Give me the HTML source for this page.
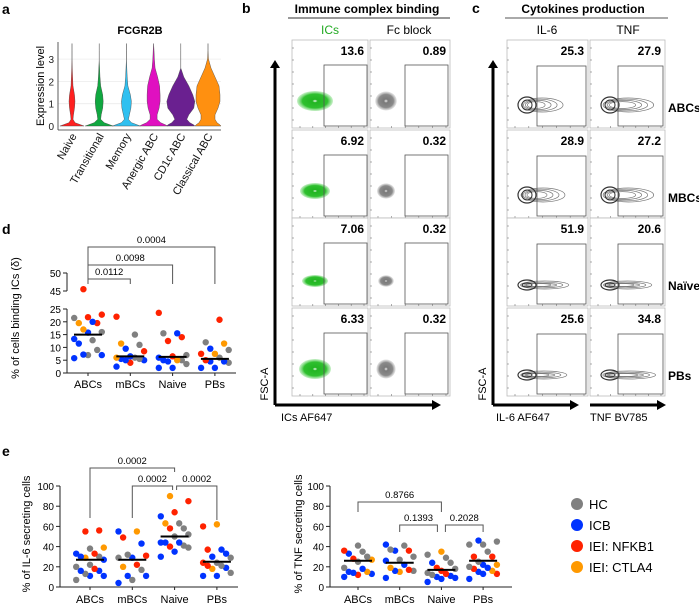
<!DOCTYPE html>
<html><head><meta charset="utf-8">
<style>
html,body{margin:0;padding:0;background:#fff;}
svg{display:block;font-family:"Liberation Sans",sans-serif;}
</style></head>
<body>
<svg id="fig" width="699" height="605" viewBox="0 0 699 605" xmlns="http://www.w3.org/2000/svg">
<defs>
<radialGradient id="gGreen"><stop offset="0" stop-color="#fff"/><stop offset="0.15" stop-color="#22b522"/><stop offset="0.7" stop-color="#2fc02f"/><stop offset="1" stop-color="#8fe08f" stop-opacity="0.5"/></radialGradient>
<radialGradient id="gGrey"><stop offset="0" stop-color="#eee"/><stop offset="0.2" stop-color="#7a7a7a"/><stop offset="0.7" stop-color="#8a8a8a"/><stop offset="1" stop-color="#ccc" stop-opacity="0.5"/></radialGradient>
</defs>
<g font-weight="bold" font-size="14">
<text x="2" y="14">a</text>
<text x="242" y="13">b</text>
<text x="472" y="13">c</text>
<text x="2" y="234">d</text>
<text x="2" y="456">e</text>
</g>
</svg>
<script>
const NS='http://www.w3.org/2000/svg';
const svg=document.getElementById('fig');
function el(tag,attrs,parent,txt){const e=document.createElementNS(NS,tag);for(const k in attrs)e.setAttribute(k,attrs[k]);if(txt!==undefined)e.textContent=txt;(parent||svg).appendChild(e);return e;}
const COL={HC:'#808080',ICB:'#0033ff',NFKB1:'#ff2200',CTLA4:'#ff9900'};

/* ---------- Panel a: violins ---------- */
const violinCats=['Naive','Transitional','Memory','Anergic ABC','CD1c ABC','Classical ABC'];
const violinColors=['#ff2020','#10a840','#30c0f0','#e010c0','#6a2090','#ff9010'];
const violinLevels=[0,0.05,0.15,0.3,0.5,0.8,1.1,1.4,1.8,2.2,2.6,3.0,3.4,3.7];
const violinWidths=[
 [12,9,3,1,1.5,2.5,3,2.5,1,0.6,0.3,0,0,0],
 [14,11,5,1.5,2,3.5,4,3.5,1.5,0.8,0.4,0,0,0],
 [14,11,5,2,3,4.5,5,4,1.5,0.8,0.4,0,0,0],
 [14,12,7,3.5,3.5,5.5,6.5,6.5,6,4,1.5,0.8,0.4,0],
 [14,13,9,6,8,13,14,12,8,3,0,0,0,0],
 [13,12,9,7,7,10,12,12,11,7,3,0.5,0,0]];
(function(){
 const g=el('g',{});
 
 
 const x0=58,x1=221,yb=126,ppu=22.3;
 const y=v=>yb-v*ppu;
 const xc=i=>72+i*27.2;
 for(let t=0;t<=3;t++){
  el('line',{x1:x0,x2:x1,y1:y(t),y2:y(t),stroke:'#ececec','stroke-width':0.8},g);
  const tl=el('text',{x:x0-4,y:y(t)+4,'font-size':10,'text-anchor':'end',fill:'#222'},g,String(t));
  
  
 }
 el('line',{x1:x0,x2:x0,y1:42,y2:130,stroke:'#333','stroke-width':0.8},g);
 el('line',{x1:x0,x2:x1,y1:130,y2:130,stroke:'#333','stroke-width':0.8},g);
 violinCats.forEach((c,i)=>{
  const w=violinWidths[i];let L='',R='';
  violinLevels.forEach((lv,k)=>{const s=(k?'L':'M');R+=`${s}${xc(i)+w[k]},${y(lv)} `;});
  for(let k=violinLevels.length-1;k>=0;k--)L+=`L${xc(i)-violinWidths[i][k]},${y(violinLevels[k])} `;
  const p=el('path',{d:R+L+'Z',fill:violinColors[i],stroke:'#444','stroke-width':0.4},g);
  
  
  const t=el('text',{x:0,y:0,'font-size':11,'text-anchor':'end',fill:'#111',transform:`translate(${xc(i)+5},${136}) rotate(-60)`},g,c);
  
  
 });
 const tt=el('text',{x:140,y:34,'font-size':11,'font-weight':'bold','text-anchor':'middle'},g,'FCGR2B');
 
 
 const yt=el('text',{x:0,y:0,'font-size':11,'text-anchor':'middle',transform:'translate(44,86) rotate(-90)'},g,'Expression level');
 
 
})();

/* ---------- Flow panels ---------- */
const rowTops=[40,130,218,308];
const rowH=88;
const bNumsICs=['13.6','6.92','7.06','6.33'];
const bNumsFc=['0.89','0.32','0.32','0.32'];
const cNumsIL6=['25.3','28.9','51.9','25.6'];
const cNumsTNF=['27.9','27.2','20.6','34.8'];
const cRows=['ABCs','MBCs','Naïve','PBs'];
function flowBox(x,yT,w,name){
 const g=el('g',{});
 
 
 el('rect',{x:x,y:yT,width:w,height:rowH,fill:'#fff',stroke:'#bbb','stroke-width':0.8},g);
 for(let k=0;k<7;k++){el('line',{x1:x,x2:x+2,y1:yT+8+k*12,y2:yT+8+k*12,stroke:'#777','stroke-width':0.6},g);}
 for(let k=0;k<6;k++){el('line',{x1:x+8+k*(w-12)/5,x2:x+8+k*(w-12)/5,y1:yT+rowH-2,y2:yT+rowH,stroke:'#777','stroke-width':0.6},g);}
 return g;
}
function title(x,y,t,name,opts){const e=el('text',Object.assign({x:x,y:y,'font-size':12,'text-anchor':'middle'},opts||{}),svg,t);return e;}
// panel b
title(367,13,'Immune complex binding','panel-b-title',{'font-weight':'bold'});
el('line',{x1:288,x2:450,y1:18,y2:18,stroke:'#333','stroke-width':1});
title(330,34,'ICs','ics-column-header',{fill:'#22aa22'});
title(409,34,'Fc block','fc-block-column-header');
const bBlobW=[18,15,13,16],bBlobH=[10,8,6,10],bBlobY=[61,61,63,61];
rowTops.forEach((yt,r)=>{
 const g1=flowBox(292,yt,76,'ics-plot-row'+(r+1));
 el('ellipse',{cx:315,cy:yt+bBlobY[r],rx:bBlobW[r],ry:bBlobH[r],fill:'url(#gGreen)'},g1);
 el('rect',{x:324,y:yt+25,width:43,height:rowH-27,fill:'none',stroke:'#555','stroke-width':0.8},g1);
 const n1=el('text',{x:364,y:yt+15,'font-size':12,'font-weight':'bold','text-anchor':'end'},g1,bNumsICs[r]);
 
 
 const g2=flowBox(370,yt,80,'fc-block-plot-row'+(r+1));
 el('ellipse',{cx:386,cy:yt+bBlobY[r],rx:bBlobW[r]*0.6,ry:bBlobH[r]*0.95,fill:'url(#gGrey)'},g2);
 el('rect',{x:405,y:yt+25,width:43,height:rowH-27,fill:'none',stroke:'#555','stroke-width':0.8},g2);
 const n2=el('text',{x:446,y:yt+15,'font-size':12,'font-weight':'bold','text-anchor':'end'},g2,bNumsFc[r]);
 
 
});
el('path',{d:'M275,405 V66',stroke:'#000','stroke-width':3,fill:'none'});
el('polygon',{points:'270,68 280,68 275,60',fill:'#000'});
el('path',{d:'M275,405 H434',stroke:'#000','stroke-width':3,fill:'none'});
el('polygon',{points:'432,400 432,410 441,405',fill:'#000'});
title(0,0,'FSC-A','b-y-axis-title',{'font-size':11,transform:'translate(268,384) rotate(-90)'});
title(281,421,'ICs AF647','b-x-axis-title',{'font-size':11,'text-anchor':'start'});
// panel c
title(583,13,'Cytokines production','panel-c-title',{'font-weight':'bold'});
el('line',{x1:505,x2:668,y1:18,y2:18,stroke:'#777','stroke-width':1.2});
title(547,34,'IL-6','il6-column-header');
title(628,34,'TNF','tnf-column-header');
const cTailIL6=[38,40,44,42],cTailTNF=[46,46,44,48];
rowTops.forEach((yt,r)=>{
 const cy=yt+(r>=2?67:65);
 [[507,81,537,cNumsIL6,cTailIL6,'il6'],[590,75,618,cNumsTNF,cTailTNF,'tnf']].forEach(([x,w,gx,nums,tails,nm])=>{
  const g=flowBox(x,yt,w,nm+'-plot-row'+(r+1));
  const cx=x+20;
  const hh=(r>=2?4:7);
  for(let k=0;k<4;k++){
   el('ellipse',{cx:cx+tails[r]*0.4-k*2,cy:cy,rx:tails[r]*0.55-k*4,ry:Math.max(1.5,hh-k*1.2),fill:'none',stroke:'#777','stroke-width':0.7},g);
  }
  el('ellipse',{cx:cx,cy:cy,rx:9,ry:hh+1,fill:'none',stroke:'#333','stroke-width':1.2},g);
  el('ellipse',{cx:cx,cy:cy,rx:5,ry:hh-2>1?hh-2:1.5,fill:'none',stroke:'#333','stroke-width':1},g);
  el('rect',{x:gx,y:yt+26,width:x+w-2-gx,height:rowH-28,fill:'none',stroke:'#555','stroke-width':0.8},g);
  const n=el('text',{x:x+w-4,y:yt+15,'font-size':12,'font-weight':'bold','text-anchor':'end'},g,nums[r]);
  
  
 });
 title(668,yt+72,cRows[r],'row-label-'+(r+1),{'font-weight':'bold','text-anchor':'start'});
});
el('path',{d:'M493,405 V66',stroke:'#000','stroke-width':3,fill:'none'});
el('polygon',{points:'488,68 498,68 493,60',fill:'#000'});
el('path',{d:'M493,405 H572',stroke:'#000','stroke-width':3,fill:'none'});
el('polygon',{points:'570,400 570,410 579,405',fill:'#000'});
el('path',{d:'M590,405 H658',stroke:'#000','stroke-width':3,fill:'none'});
el('polygon',{points:'657,400 657,410 666,405',fill:'#000'});
title(0,0,'FSC-A','c-y-axis-title',{'font-size':11,transform:'translate(486,384) rotate(-90)'});
title(496,421,'IL-6 AF647','c-x-axis-title-il6',{'font-size':11,'text-anchor':'start'});
title(590,421,'TNF BV785','c-x-axis-title-tnf',{'font-size':11,'text-anchor':'start'});

/* ---------- Dot plot data ---------- */
const dotCats=['ABCs','mBCs','Naive','PBs'];
// panel d
const dVals=[[45.5,22.8,21.8,19.5,21.5,16,9,7,12.8,20,15.8,13.3,11.5,7,7.2,5.8,19.5,17],
 [22,8.5,4,15,11,5.5,6,11.5,6,9.5,6.5,5,2.5,5,5.5],
 [23.5,14,12.5,6.5,15.5,7,5,3.5,15.5,6,4.5,2,2,5,5],
 [20.8,7.5,5,12,9,6,4,11.5,7.5,9.5,2,2,4.5,4.5]];
const dGroups=[['NFKB1','NFKB1','NFKB1','NFKB1','HC','HC','HC','HC','HC','ICB','ICB','ICB','ICB','ICB','ICB','ICB','CTLA4','CTLA4'],
 ['NFKB1','NFKB1','NFKB1','HC','HC','HC','HC','CTLA4','CTLA4','ICB','ICB','ICB','ICB','ICB','ICB'],
 ['NFKB1','NFKB1','NFKB1','NFKB1','HC','HC','HC','HC','ICB','ICB','ICB','ICB','ICB','ICB','CTLA4'],
 ['NFKB1','NFKB1','NFKB1','HC','HC','HC','HC','CTLA4','CTLA4','ICB','ICB','ICB','ICB','ICB']];
const dMedians=[15,6.5,6.3,5.5];
const dTicksLow=[0,5,10,15,20,25];
const dTicksHigh=[45,50];
const dPvals=['0.0112','0.0098','0.0004'];
// panel e IL-6
const il6Vals=[[55,56,33,18,38,30,7,20,22,13,39,29,33,30,27,16,11,11,16],
 [49,31,22,32,29,17,7,55,20,55,43,29,11,11,4],
 [85,74,58,40,90,63,63,58,50,39,41,52,70,44,44,35,30,44],
 [60,24,37,21,62,18,29,24,14,21,37,33,30,11,11,19]];
const il6Groups=[['NFKB1','NFKB1','NFKB1','NFKB1','HC','HC','HC','HC','HC','HC','CTLA4','CTLA4','ICB','ICB','ICB','ICB','ICB','ICB','ICB'],
 ['NFKB1','NFKB1','NFKB1','HC','HC','HC','HC','CTLA4','CTLA4','ICB','ICB','ICB','ICB','ICB','ICB'],
 ['NFKB1','NFKB1','NFKB1','NFKB1','CTLA4','CTLA4','HC','HC','HC','HC','HC','HC','ICB','ICB','ICB','ICB','ICB','ICB'],
 ['NFKB1','NFKB1','NFKB1','NFKB1','CTLA4','CTLA4','HC','HC','HC','HC','ICB','ICB','ICB','ICB','ICB','ICB']];
const il6Medians=[27,27,50,25];
const il6Pvals=['0.0002','0.0002','0.0002'];
// panel e TNF
const tnfVals=[[36,28,12,41,35,30,19,25,27,15,33,15,13,18,10,14],
 [41,37,27,16,30,42,36,26,22,16,9,36,17,15,19],
 [35,32,29,24,18,14,12,19,16,13,24,11,9,8,5,10],
 [46,22,15,19,8,13,45,42,35,42,25,20,30,30,13,18,16,22]];
const tnfGroups=[['NFKB1','NFKB1','NFKB1','HC','HC','HC','HC','HC','CTLA4','CTLA4','ICB','ICB','ICB','ICB','ICB','ICB'],
 ['HC','HC','HC','HC','HC','ICB','ICB','ICB','ICB','ICB','ICB','NFKB1','NFKB1','CTLA4','CTLA4'],
 ['CTLA4','HC','HC','HC','HC','HC','HC','NFKB1','NFKB1','NFKB1','ICB','ICB','ICB','ICB','ICB','ICB'],
 ['ICB','ICB','ICB','ICB','ICB','ICB','HC','HC','HC','HC','HC','HC','NFKB1','NFKB1','NFKB1','NFKB1','CTLA4','CTLA4']];
const tnfMedians=[26,24,17,26];
const tnfPvals=['0.8766','0.1393','0.2028'];
const eTicks=[0,20,40,60,80,100];

function dotChart(o){
 const g=el('g',{});
 
 
 o.axisSegs.forEach(s=>el('line',{x1:o.ax,x2:o.ax,y1:s[0],y2:s[1],stroke:'#222','stroke-width':1},g));
 el('line',{x1:o.ax,x2:o.xEnd,y1:o.y(0),y2:o.y(0),stroke:'#222','stroke-width':1},g);
 o.ticks.forEach(t=>{
  el('line',{x1:o.ax-4,x2:o.ax,y1:o.y(t),y2:o.y(t),stroke:'#222','stroke-width':1},g);
  const tl=el('text',{x:o.ax-6,y:o.y(t)+4,'font-size':o.tfs,'text-anchor':'end'},g,String(t));
  
  
 });
 dotCats.forEach((c,i)=>{
  const cx=o.x(i);
  el('line',{x1:cx,x2:cx,y1:o.y(0),y2:o.y(0)+3,stroke:'#222'},g);
  const xl=el('text',{x:cx,y:o.labY,'font-size':o.lfs,'text-anchor':'middle'},g,c);
  
  
  const idx=o.vals[i].map((v,k)=>k).sort((a,b)=>o.vals[i][a]-o.vals[i][b]);
  idx.forEach((k,j)=>{
   const off=((j*3)%7-3)*4.6;
   const d=el('circle',{cx:cx+off,cy:o.y(o.vals[i][k]),r:3.2,fill:COL[o.groups[i][k]]},g);
   
   
  });
  const m=el('line',{x1:cx-14,x2:cx+14,y1:o.y(o.meds[i]),y2:o.y(o.meds[i]),stroke:'#000','stroke-width':2},g);
  
  
 });
 o.brackets.forEach((b,k)=>{
  const x1=o.x(b[0])+(b[2]||0),x2=o.x(b[1])+(b[3]||0);
  el('path',{d:`M${x1},${b[4]} V${b[5]} H${x2} V${b[6]}`,fill:'none',stroke:'#555','stroke-width':1},g);
  const t=el('text',{x:(x1+x2)/2,y:b[5]-4,'font-size':9.5,'text-anchor':'middle'},g,o.pvals[k]);
  
  
 });
 const yt=el('text',{x:0,y:0,'font-size':11,'text-anchor':'middle',transform:`translate(${o.ytx},${o.yty}) rotate(-90)`},g,o.ytitle);
 
 
}
const yD=v=>v<=25?373-v*(64/25):291-(v-45)*(18/5);
dotChart({name:'dot-plot-ic-binding',ax:67,xEnd:236,x:i=>88+i*42.3,y:yD,axisSegs:[[373,309],[291,273]],
 ticks:dTicksLow.concat(dTicksHigh),tfs:10,lfs:11,labY:388,vals:dVals,groups:dGroups,meds:dMedians,pvals:dPvals,
 brackets:[[0,1,0,0,284,279,284],[0,2,0,0,279,265,284],[0,3,0,0,265,247,284]],
 ytitle:'% of cells binding ICs (δ)',ytx:19,yty:318});
const yE=v=>587-v*1.01;
dotChart({name:'dot-plot-il6',ax:60,xEnd:238,x:i=>90+i*42.3,y:yE,axisSegs:[[587,486]],ticks:eTicks,tfs:10,lfs:11,labY:603,
 vals:il6Vals,groups:il6Groups,meds:il6Medians,pvals:il6Pvals,
 brackets:[[0,2,0,0,518,468,472],[1,2,0,-2,518,486,490],[2,3,2,0,490,486,520]],
 ytitle:'% of IL-6 secreting cells',ytx:30,yty:534});
dotChart({name:'dot-plot-tnf',ax:330,xEnd:512,x:i=>358+i*41.7,y:yE,axisSegs:[[587,486]],ticks:eTicks,tfs:10,lfs:11,labY:603,
 vals:tnfVals,groups:tnfGroups,meds:tnfMedians,pvals:tnfPvals,
 brackets:[[0,2,0,0,512,502,512],[1,2,0,-4,532,525,532],[2,3,4,0,532,525,532]],
 ytitle:'% of TNF secreting cells',ytx:302,yty:534});
const legendLabels=['HC','ICB','IEI: NFKB1','IEI: CTLA4'];
const legendKeys=['HC','ICB','NFKB1','CTLA4'];
const lg=el('g',{});


legendLabels.forEach((l,i)=>{
 const y=504+i*21;
 const c=el('circle',{cx:577,cy:y,r:6,fill:COL[legendKeys[i]]},lg);
 
 
 const t=el('text',{x:589,y:y+5,'font-size':13},lg,l);
 
 
});
</script>
</body></html>
